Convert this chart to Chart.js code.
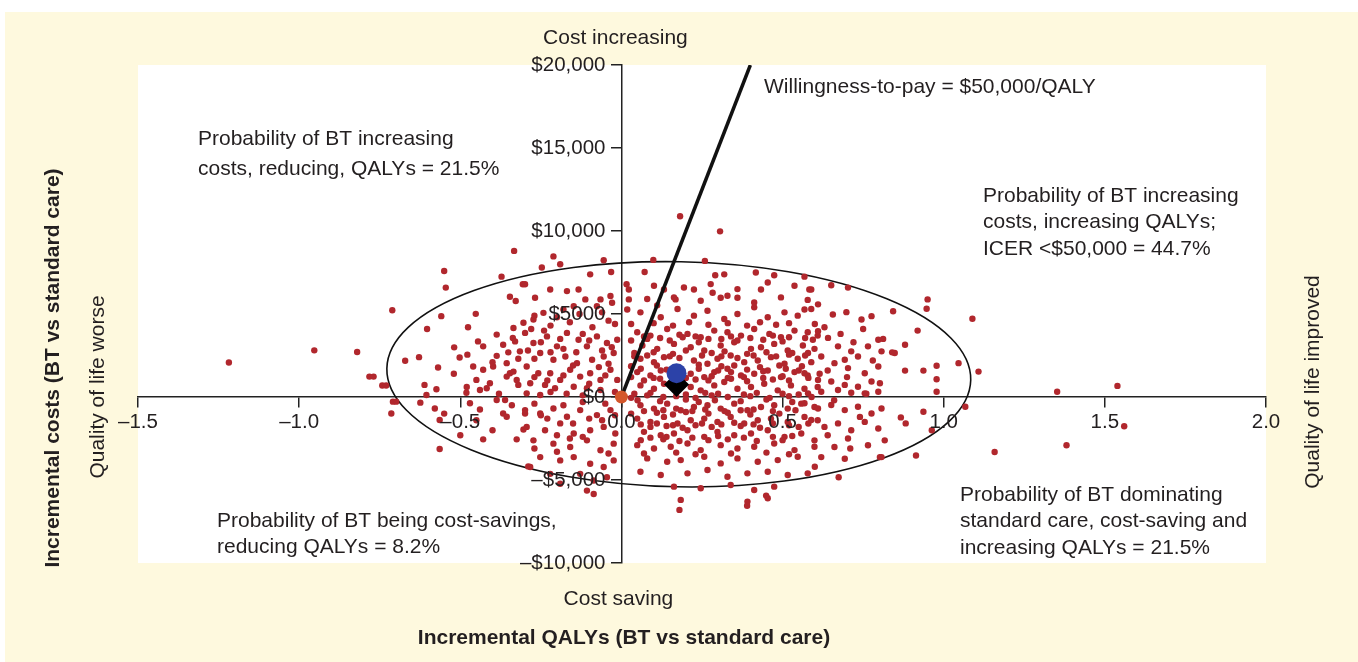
<!DOCTYPE html>
<html>
<head>
<meta charset="utf-8">
<script src="https://cdn.jsdelivr.net/npm/chart.js@4.4.1/dist/chart.umd.min.js"></script>
<style>
  html, body { margin: 0; padding: 0; background: #fff; }
</style>
</head>
<body>
<canvas id="plane" width="1358" height="662"></canvas>
<script>
// ticks
const qalyTicks = [-1.5, -1, -0.5, 0, 0.5, 1, 1.5, 2];
const qalyTickLabels = ['–1.5', '–1.0', '–0.5', '0.0', '0.5', '1.0', '1.5', '2.0'];
const costTicks = [-10000, -5000, 0, 5000, 10000, 15000, 20000];
const costTickLabels = ['–$10,000', '–$5,000', '$0', '$5000', '$10,000', '$15,000', '$20,000'];

// bootstrap replicates [incremental QALYs, incremental cost]
const simLeft = [
  [-0.333,8800],[-0.55,7590],[-0.545,6590],[-0.372,7250],[-0.306,6790],[-0.711,5230],[-0.559,4870],[-0.452,5010],
  [-0.346,6040],[-0.328,5780],[-0.603,4100],[-0.476,4200],[-0.387,3760],[-0.335,4160],[-0.337,3560],[-0.33,3350],
  [-0.953,2810],[-0.82,2710],[-1.218,2080],[-0.671,2180],[-0.628,2400],[-0.569,1780],[-0.519,2990],[-0.502,2380],
  [-0.478,2550],[-0.445,3350],[-0.429,3050],[-0.387,2480],[-0.367,3150],[-0.351,2690],[-0.315,2750],[-0.46,1840],
  [-0.429,1640],[-0.398,1840],[-0.356,2040],[-0.346,1430],[-0.782,1230],[-0.769,1230],[-0.742,690],[-0.73,690],
  [-0.611,730],[-0.574,470],[-0.605,120],[-0.45,1030],[-0.408,830],[-0.418,530],[-0.439,420],[-0.481,260],
  [-0.356,1230],[-0.335,1530],[-0.325,1030],[-0.32,730],[-0.709,-280],[-0.699,-280],[-0.714,-990],[-0.624,-340],
  [-0.579,-690],[-0.47,-380],[-0.439,-750],[-0.564,-1390],[-0.387,-180],[-0.361,-180],[-0.367,-990],[-0.356,-1190],
  [-0.299,-990],[-0.304,-1960],[-0.429,-2550],[-0.325,-2550],[-0.564,-3130],[-0.289,-4180],
  [-0.52,1400],[-0.4,2100],[-0.32,2300],[-0.48,600],[-0.38,200],[-0.34,-500],[-0.55,-1000],[-0.45,-1400],
  [-0.4,-2000],[-0.5,-2300]
];
const simMiddle = [
  [-0.032,7530],[-0.097,7390],[-0.055,8240],[-0.211,8470],[-0.19,8000],[-0.299,6790],[-0.247,7800],[-0.133,6480],
  [-0.169,6380],[-0.221,6480],[-0.268,5980],[-0.112,5880],[-0.065,5880],[-0.034,6080],[-0.029,5680],[-0.076,5470],
  [-0.148,5470],[-0.18,5270],[-0.242,5070],[-0.273,4670],[-0.304,4470],
  [-0.299,3860],[-0.273,3250],[-0.231,3650],[-0.2,3050],[-0.169,3860],[-0.133,3450],[-0.107,3050],[-0.076,3650],
  [-0.045,3250],[-0.013,3450],[-0.252,2650],[-0.211,2240],[-0.174,2440],[-0.138,2040],[-0.091,2240],[-0.055,2440],
  [-0.024,2650],[-0.294,1840],[-0.258,1430],[-0.221,1430],[-0.19,1030],[-0.159,1640],[-0.128,1230],[-0.097,1430],
  [-0.065,1030],[-0.034,1640],[-0.013,1030],[-0.283,830],[-0.237,730],[-0.206,530],[-0.148,620],[-0.107,530],
  [-0.065,420],[-0.294,220],[-0.252,120],
  [-0.299,-790],[-0.252,-990],[-0.211,-690],[-0.169,-1190],[-0.128,-790],[-0.076,-1090],[-0.034,-790],[-0.294,-1800],
  [-0.237,-2000],[-0.19,-1590],[-0.148,-2200],[-0.097,-2000],[-0.055,-1800],[-0.019,-2200],[-0.273,-2610],[-0.211,-2810],
  [-0.159,-3010],[-0.107,-2610],[-0.065,-3210],[-0.024,-2810],[-0.252,-3620],[-0.19,-3820],[-0.148,-3620],[-0.097,-4020],
  [-0.055,-4220],[-0.024,-3820],[-0.283,-4220],[-0.221,-4630],[-0.128,-4630],[-0.086,-5030],[-0.045,-4830],[-0.107,-5640],
  [-0.086,-5840],[-0.19,-5230],
  [-0.28,4100],[-0.22,4300],[-0.16,4500],[-0.09,4200],[-0.04,4600],[-0.12,3800],[-0.25,3300],[-0.18,2900],
  [-0.06,2800],[-0.27,2300],[-0.15,1900],[-0.04,2000],[-0.23,1000],[-0.1,800],[-0.02,300],[-0.17,200],
  [-0.12,-300],[-0.27,-400],[-0.06,-1400],[-0.23,-1300],[-0.15,-1600],[-0.2,-2300],[-0.12,-2400],
  [-0.27,4900],[-0.2,4800],[-0.13,5000],[-0.06,5100],[-0.02,4400],[-0.24,4000],[-0.19,3500],[-0.1,3400],
  [-0.03,3000],[-0.29,2800],[-0.22,2700],[-0.14,2700],[-0.07,1800],[-0.18,1300],[-0.27,1200],[-0.05,1300],
  [-0.12,100],[-0.22,300],[-0.05,-400],[-0.18,-500],[-0.25,-1100],[-0.1,-1300],[-0.02,-1100],[-0.16,-2500],
  [-0.27,-3100],[-0.04,-3400],[-0.2,-3300]
];
const simRight = [
  [0.182,10890],[0.306,9980],[0.099,8260],[0.259,8200],[0.072,7530],[0.291,7330],[0.319,7390],[0.417,7500],
  [0.474,7330],[0.568,7250],[0.583,6480],[0.433,6480],[0.36,5980],[0.308,5980],[0.283,6280],[0.225,6480],
  [0.132,6480],[0.168,5880],[0.111,5520],[0.016,6790],[0.023,6480],[0.023,5880],[0.018,5270],
  [0.059,5100],[0.122,4800],[0.174,5300],[0.225,4900],[0.267,5200],[0.319,4700],[0.36,5000],[0.412,5400],
  [0.454,4800],[0.506,5100],[0.547,4900],[0.589,5300],
  [0.049,3900],[0.09,3700],[0.142,4100],[0.205,3800],[0.246,3600],[0.288,4000],[0.329,3900],[0.371,3700],
  [0.412,4100],[0.459,3800],[0.495,3600],[0.537,4000],[0.578,3900],[0.609,3700],
  [0.065,3100],[0.111,2900],[0.163,3200],[0.215,3000],[0.257,2800],[0.308,3100],[0.35,3300],[0.402,2900],
  [0.433,3000],[0.474,3200],[0.516,2800],[0.563,3100],[0.599,2900],
  [0.059,2300],[0.101,2100],[0.132,2400],[0.225,2200],[0.267,2000],[0.298,2300],[0.339,2500],[0.381,2100],
  [0.423,2200],[0.464,2400],[0.506,2000],[0.547,2300],[0.589,2100],
  [0.049,1500],[0.09,1300],[0.122,1600],[0.215,1400],[0.257,1200],[0.288,1500],[0.329,1700],[0.371,1300],
  [0.412,1400],[0.454,1600],[0.495,1200],[0.537,1500],[0.578,1300],[0.615,1400],
  [0.059,700],[0.101,500],[0.132,800],[0.215,600],[0.246,400],[0.288,700],[0.319,900],[0.36,500],
  [0.402,600],[0.443,800],[0.485,400],[0.526,700],[0.568,500],[0.609,600],
  [0.08,5900],[0.163,6000],[0.246,5800],[0.329,6100],[0.412,5700],[0.495,6000],[0.578,5850],
  [0.101,6700],[0.194,6600],[0.277,6800],[0.36,6500],[0.454,6900],[0.537,6700],
  [0.059,-500],[0.101,-700],[0.142,-400],[0.184,-800],[0.225,-600],[0.267,-500],[0.308,-700],[0.35,-400],
  [0.391,-800],[0.433,-600],[0.474,-500],[0.516,-700],[0.558,-400],[0.599,-600],
  [0.049,-1300],[0.09,-1500],[0.132,-1200],[0.174,-1600],[0.215,-1400],[0.257,-1300],[0.298,-1500],[0.339,-1200],
  [0.381,-1600],[0.423,-1400],[0.464,-1300],[0.516,-1500],[0.568,-1200],[0.609,-1400],
  [0.07,-2100],[0.122,-2300],[0.163,-2200],[0.205,-2000],[0.257,-2400],[0.298,-2100],[0.35,-2300],[0.402,-2200],
  [0.454,-2000],[0.506,-2400],[0.558,-2200],
  [0.049,-2900],[0.101,-3100],[0.153,-3000],[0.205,-2800],[0.246,-3200],[0.308,-2900],[0.36,-3100],[0.412,-3000],
  [0.474,-2800],[0.537,-3200],[0.599,-3000],
  [0.08,-3700],[0.142,-3900],[0.184,-3800],[0.257,-3600],[0.308,-4000],[0.36,-3700],[0.423,-3900],[0.485,-3800],
  [0.547,-3600],
  [0.059,-4500],[0.122,-4700],[0.205,-4600],[0.267,-4400],[0.329,-4800],[0.391,-4600],[0.454,-4500],[0.516,-4700],
  [0.578,-4600],
  [0.163,-5400],[0.246,-5500],[0.339,-5300],[0.412,-5600],[0.474,-5400],
  [0.184,-6200],[0.391,-6300],[0.454,-6100],[0.18,-6800],[0.39,-6550],[0.449,-5940],
  [0.03,3400],[0.08,3500],[0.15,3400],[0.19,3600],[0.24,3300],[0.31,3500],[0.36,3400],[0.44,3450],[0.5,3350],
  [0.04,2650],[0.1,2700],[0.16,2600],[0.2,2800],[0.28,2650],[0.32,2750],[0.39,2600],[0.45,2700],[0.53,2650],
  [0.03,1850],[0.11,1900],[0.17,1800],[0.24,1950],[0.31,1850],[0.35,1900],[0.43,1800],[0.49,1900],[0.56,1850],
  [0.07,1000],[0.12,1100],[0.18,950],[0.23,1050],[0.27,1000],[0.34,1100],[0.39,950],[0.47,1050],[0.52,1000],
  [0.04,200],[0.09,250],[0.2,150],[0.26,250],[0.3,200],[0.38,150],[0.42,250],[0.5,200],[0.55,150],
  [0.05,-200],[0.12,-250],[0.2,-150],[0.24,-300],[0.29,-200],[0.37,-250],[0.45,-150],[0.53,-300],
  [0.03,-1000],[0.11,-950],[0.16,-1050],[0.2,-900],[0.27,-1000],[0.33,-950],[0.4,-1050],[0.49,-1000],
  [0.09,-1800],[0.14,-1750],[0.19,-1850],[0.23,-1700],[0.28,-1800],[0.37,-1750],[0.43,-1850],[0.55,-1800],
  [0.06,-2600],[0.13,-2550],[0.18,-2650],[0.27,-2600],[0.33,-2550],[0.42,-2650],[0.5,-2600],
  [0.03,4400],[0.1,4450],[0.16,4300],[0.21,4500],[0.27,4350],[0.33,4450],[0.39,4300],[0.43,4500],
  [0.48,4350],[0.52,4450],[0.6,4400],
  [0.07,3650],[0.12,3550],[0.18,3750],[0.23,3650],[0.27,3500],[0.34,3650],[0.4,3550],[0.47,3700],
  [0.52,3600],[0.57,3550],
  [0.04,2450],[0.08,2500],[0.15,2450],[0.18,2350],[0.25,2500],[0.31,2450],[0.36,2350],[0.41,2500],
  [0.48,2450],[0.52,2550],[0.57,2500],
  [0.06,1700],[0.14,1650],[0.19,1550],[0.24,1700],[0.3,1600],[0.34,1500],[0.39,1650],[0.44,1550],
  [0.51,1700],[0.55,1600],
  [0.03,1200],[0.1,1150],[0.16,1250],[0.2,1150],[0.28,1250],[0.33,1150],[0.38,1200],[0.44,1150],
  [0.5,1250],[0.58,1150],
  [0.03,-50],[0.08,100],[0.13,0],[0.17,50],[0.23,-50],[0.28,100],[0.33,0],[0.4,50],[0.46,-50],
  [0.52,50],[0.59,0],
  [0.07,-850],[0.13,-800],[0.17,-700],[0.22,-850],[0.26,-750],[0.32,-850],[0.37,-800],[0.41,-750],
  [0.47,-850],[0.54,-800],
  [0.06,-1650],[0.11,-1600],[0.16,-1700],[0.25,-1600],[0.31,-1650],[0.35,-1550],[0.41,-1650],[0.47,-1600],
  [0.52,-1700],[0.58,-1600],
  [0.09,-2450],[0.14,-2400],[0.22,-2450],[0.3,-2350],[0.38,-2450],[0.47,-2400],[0.53,-2350],
  [0.07,-3400],[0.17,-3350],[0.23,-3450],[0.34,-3400],[0.45,-3350],[0.52,-3450]
];
const simFar = [
  [0.95,5880],[0.947,5320],[1.089,4710],[0.919,4000],[0.843,5170],[0.589,6480],[0.651,6730],[0.703,6590],
  [0.61,5580],[0.656,4970],[0.698,5110],[0.745,4670],[0.776,4870],[0.75,4100],[0.812,3500],[0.848,2650],
  [0.88,3150],[1.046,2040],[1.108,1530],[0.978,1880],[0.978,1070],[0.978,320],[0.937,1590],[0.88,1590],
  [0.84,2690],[1.352,320],[1.539,670],[1.56,-1760],[1.381,-2910],[1.158,-3310],[1.067,-590],[0.937,-890],
  [0.963,-2000],[0.867,-1230],[0.882,-1590],[0.914,-3520],[0.802,-3620],[0.674,-4830],
  [0.568,5270],[0.61,3960],[0.594,3450],[0.641,3560],[0.672,3050],[0.713,2750],[0.693,2240],[0.734,2440],
  [0.765,3050],[0.797,3450],[0.807,2750],[0.579,2650],[0.62,2440],[0.661,2040],[0.703,1740],[0.755,1430],
  [0.797,1840],[0.568,1430],[0.61,1030],[0.651,930],[0.693,730],[0.734,620],[0.776,930],[0.802,830],
  [0.579,220],[0.62,320],[0.672,420],[0.713,260],[0.755,220],[0.797,320],
  [0.568,-380],[0.61,-690],[0.651,-480],[0.693,-790],[0.734,-590],[0.776,-990],[0.807,-690],[0.589,-1390],
  [0.63,-1800],[0.672,-1590],[0.713,-2000],[0.755,-1500],[0.797,-1900],[0.599,-2610],[0.661,-3010],[0.703,-2500],
  [0.765,-2910],[0.817,-2610],[0.62,-3620],[0.693,-3720],[0.807,-3620],
  [0.63,4200],[0.68,3800],[0.72,3300],[0.78,2200],[0.64,1600],[0.7,1200],[0.76,200],[0.66,-200],
  [0.74,-1200],[0.64,-2300],[0.71,-3100],[0.6,-4200]
];

const meanResult = [0.171, 1430];     // blue dot
const medianResult = [0.171, 760];    // black diamond
const origin = [0, 0];
const wtpLine = [[0, 0], [0.4, 20000]];   // $50,000 per QALY
const ellipseCentre = [0.178, 1370];
const ellipseRadii = [0.906, 6780];

const toXY = arr => arr.map(p => ({ x: p[0], y: p[1] }));
const allSims = simLeft.concat(simMiddle, simRight, simFar);

const FONT = '"Liberation Sans", Arial, Helvetica, sans-serif';
const INK = '#231f20';

const planePlugin = {
  id: 'planePlugin',
  beforeDraw(chart) {
    const { ctx, chartArea } = chart;
    ctx.save();
    ctx.fillStyle = '#fff';
    ctx.fillRect(0, 0, chart.width, chart.height);
    ctx.fillStyle = '#fef9de';
    ctx.fillRect(5, 12, chart.width - 5, chart.height - 12);
    ctx.fillStyle = '#fff';
    ctx.fillRect(chartArea.left, chartArea.top, chartArea.right - chartArea.left, chartArea.bottom - chartArea.top);
    ctx.restore();
  },
  beforeDatasetsDraw(chart) {
    const { ctx } = chart;
    const x = chart.scales.x, y = chart.scales.y;
    const cx = x.getPixelForValue(ellipseCentre[0]);
    const cy = y.getPixelForValue(ellipseCentre[1]);
    const rx = x.getPixelForValue(ellipseCentre[0] + ellipseRadii[0]) - cx;
    const ry = cy - y.getPixelForValue(ellipseCentre[1] + ellipseRadii[1]);
    ctx.save();
    ctx.beginPath();
    ctx.ellipse(cx, cy, rx, ry, 0.02, 0, Math.PI * 2);
    ctx.strokeStyle = '#111';
    ctx.lineWidth = 1.6;
    ctx.stroke();
    ctx.restore();
  },
  afterDraw(chart) {
    const { ctx } = chart;
    const x = chart.scales.x, y = chart.scales.y;
    const x0 = x.getPixelForValue(0), y0 = y.getPixelForValue(0);
    ctx.save();
    ctx.fillStyle = INK;
    ctx.font = '20.5px ' + FONT;
    // tick labels
    ctx.textAlign = 'center';
    ctx.textBaseline = 'middle';
    qalyTicks.forEach((v, i) => ctx.fillText(qalyTickLabels[i], x.getPixelForValue(v), y0 + 25));
    ctx.textAlign = 'right';
    costTicks.forEach((v, i) => ctx.fillText(costTickLabels[i], x0 - 16, y.getPixelForValue(v)));

    ctx.font = '21px ' + FONT;
    ctx.textAlign = 'center';
    ctx.fillText('Cost increasing', x0 - 6, 38);
    ctx.fillText('Cost saving', x0 - 3, 599);

    ctx.textAlign = 'left';
    const notes = [
      [764, 87, 0, ['Willingness-to-pay = $50,000/QALY']],
      [198, 139, 30, ['Probability of BT increasing', 'costs, reducing, QALYs = 21.5%']],
      [983, 196, 26.5, ['Probability of BT increasing', 'costs, increasing QALYs;', 'ICER <$50,000 = 44.7%']],
      [960, 495, 26.5, ['Probability of BT dominating', 'standard care, cost-saving and', 'increasing QALYs = 21.5%']],
      [217, 521, 26.5, ['Probability of BT being cost-savings,', 'reducing QALYs = 8.2%']]
    ];
    notes.forEach(n => n[3].forEach((t, i) => ctx.fillText(t, n[0], n[1] + i * n[2])));

    // side labels
    ctx.textAlign = 'center';
    ctx.save();
    ctx.translate(98, 387);
    ctx.rotate(-Math.PI / 2);
    ctx.fillText('Quality of life worse', 0, 0);
    ctx.restore();
    ctx.save();
    ctx.translate(1313, 382);
    ctx.rotate(-Math.PI / 2);
    ctx.fillText('Quality of life improved', 0, 0);
    ctx.restore();

    ctx.font = 'bold 21px ' + FONT;
    ctx.fillText('Incremental QALYs (BT vs standard care)', 624, 638);
    ctx.save();
    ctx.translate(53, 368);
    ctx.rotate(-Math.PI / 2);
    ctx.fillText('Incremental costs (BT vs standard care)', 0, 0);
    ctx.restore();
    ctx.restore();
  }
};

new Chart(document.getElementById('plane'), {
  type: 'scatter',
  data: {
    datasets: [
      { data: toXY([origin]), pointRadius: 6.5, pointBackgroundColor: '#d4572b', pointBorderWidth: 0 },
      { data: toXY([meanResult]), pointRadius: 10, pointBackgroundColor: '#2c42a8', pointBorderWidth: 0 },
      { data: toXY([medianResult]), pointStyle: 'rectRot', pointRadius: 12.5, pointBackgroundColor: '#000', pointBorderWidth: 0 },
      { data: toXY(wtpLine), showLine: true, borderColor: '#111', borderWidth: 3.5, pointRadius: 0 },
      { data: toXY(allSims), pointRadius: 3.2, pointBackgroundColor: '#b1272d', pointBorderWidth: 0 }
    ]
  },
  options: {
    responsive: false,
    animation: false,
    layout: { padding: { left: 138, right: 92, top: 65, bottom: 99 } },
    plugins: { legend: { display: false }, tooltip: { enabled: false } },
    scales: {
      x: {
        type: 'linear', min: -1.5, max: 2, position: { y: 0 },
        afterBuildTicks: s => { s.ticks = qalyTicks.map(v => ({ value: v })); },
        afterFit: s => { s.height = 0; },
        ticks: { color: 'rgba(0,0,0,0)' },
        grid: { drawOnChartArea: false, drawTicks: true, tickLength: 10, color: '#222', lineWidth: 1.5 },
        border: { color: '#222', width: 1.5 }
      },
      y: {
        type: 'linear', min: -10000, max: 20000, position: { x: 0 },
        afterBuildTicks: s => { s.ticks = costTicks.map(v => ({ value: v })); },
        afterFit: s => { s.width = 0; },
        ticks: { color: 'rgba(0,0,0,0)' },
        grid: { drawOnChartArea: false, drawTicks: true, tickLength: 10, color: '#222', lineWidth: 1.5 },
        border: { color: '#222', width: 1.5 }
      }
    }
  },
  plugins: [planePlugin]
});
</script>
</body>
</html>
